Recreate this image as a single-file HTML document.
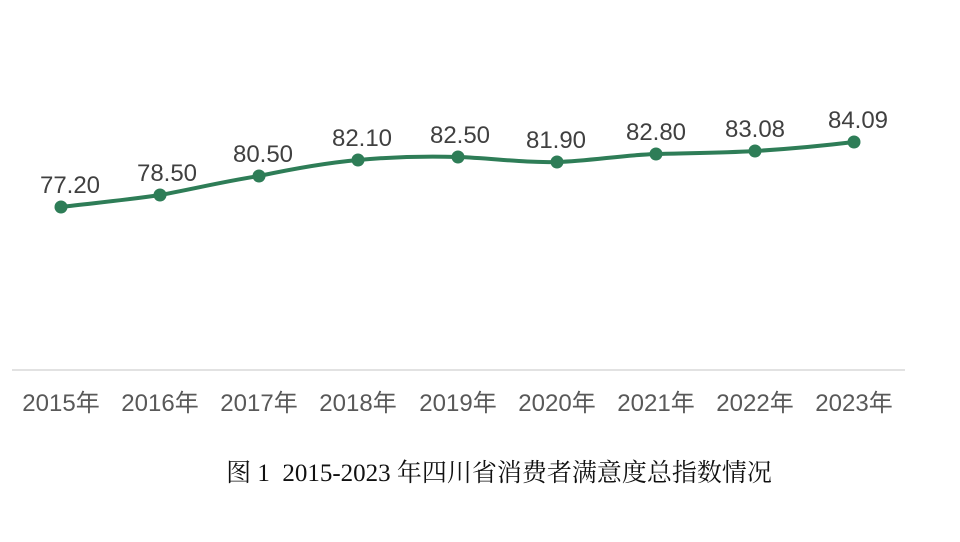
<!DOCTYPE html>
<html><head><meta charset="utf-8"><style>
html,body{margin:0;padding:0;background:#fff;}
</style></head><body>
<svg width="960" height="537" xmlns="http://www.w3.org/2000/svg">
<rect width="960" height="537" fill="#fff"/>
<line x1="12" y1="370" x2="905" y2="370" stroke="#d9d9d9" stroke-width="1.5"/>
<path d="M61,207 C94,203 127,200 160,195 C193,189 226,181 259,176 C292,169 325,163 358,160 C391,157 425,156 458,157 C491,158 524,163 557,162 C590,161 623,155 656,154 C689,153 722,153 755,151 C788,149 821,146 854,142" fill="none" stroke="#2e7d57" stroke-width="4" stroke-linecap="round"/>
<g fill="#2e7d57">
<circle cx="61" cy="207" r="6.5"/><circle cx="160" cy="195" r="6.5"/><circle cx="259" cy="176" r="6.5"/>
<circle cx="358" cy="160" r="6.5"/><circle cx="458" cy="157" r="6.5"/><circle cx="557" cy="162" r="6.5"/>
<circle cx="656" cy="154" r="6.5"/><circle cx="755" cy="151" r="6.5"/><circle cx="854" cy="142" r="6.5"/>
</g>
<g font-family="'Liberation Sans','Noto Sans CJK SC',sans-serif" font-size="24" fill="#404040" text-anchor="middle">
<text x="70" y="193">77.20</text><text x="167" y="181">78.50</text><text x="263" y="162">80.50</text>
<text x="362" y="146">82.10</text><text x="460" y="143">82.50</text><text x="556" y="148">81.90</text>
<text x="656" y="140">82.80</text><text x="755" y="137">83.08</text><text x="858" y="128">84.09</text>
</g>
<g font-family="'Liberation Sans','Noto Sans CJK SC',sans-serif" font-size="24" fill="#595959" text-anchor="middle">
<text x="61" y="411">2015年</text><text x="160" y="411">2016年</text><text x="259" y="411">2017年</text>
<text x="358" y="411">2018年</text><text x="458" y="411">2019年</text><text x="557" y="411">2020年</text>
<text x="656" y="411">2021年</text><text x="755" y="411">2022年</text><text x="854" y="411">2023年</text>
</g>
<text x="499" y="481" text-anchor="middle" font-family="'Liberation Serif','Noto Serif CJK SC',serif" font-size="25" fill="#111" style="white-space:pre">图 1  2015-2023 年四川省消费者满意度总指数情况</text>
</svg>
</body></html>
